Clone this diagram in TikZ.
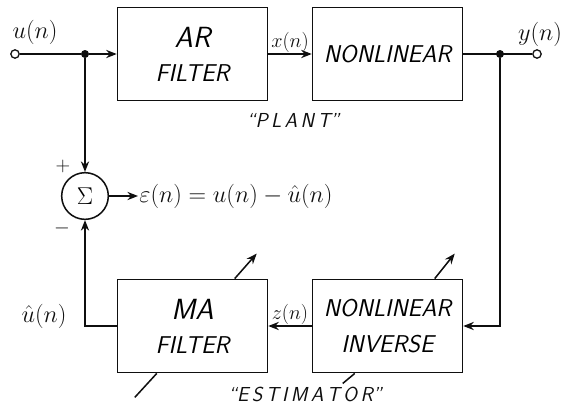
\documentclass[tikz,border=0pt]{standalone}
\usepackage{amsmath}
\usepackage{tikz}
\usetikzlibrary{arrows.meta, positioning, calc}
\definecolor{myink}{RGB}{15,15,15}
\tikzset{
  block/.style={rectangle, draw=myink, minimum width=4.5cm, minimum height=2.8cm,
    align=center, font=\huge\sffamily\slshape, line width=1.3pt},
  sumjunc/.style={circle, draw=myink, minimum size=1.4cm, inner sep=0pt,
    font=\huge, line width=1.3pt},
  port/.style={circle, draw=myink, fill=white, minimum size=0.25cm,
    inner sep=0pt, line width=1.1pt},
  dot/.style={circle, fill=myink, minimum size=0.24cm, inner sep=0pt},
  arrow/.style={-{Stealth[length=9pt,width=7pt]}, line width=1.3pt, color=myink},
  line/.style={line width=1.3pt, color=myink},
  sig/.style={font=\huge, text=myink, inner sep=1pt},
  tag/.style={font=\LARGE\sffamily\slshape, text=myink}
}

\begin{document}
\begin{tikzpicture}[x=0.03cm, y=-0.03cm]
  \useasboundingbox (0,0) rectangle (563,406);

  % plant
  \node[port] (in) at (15,54) {};
  \node[dot] (j1) at (85,54) {};
  \node[block] (ar) at (192.5,54) {{\Huge AR}\\[4pt]FILTER};
  \node[block] (nl) at (387.5,54) {NONLINEAR};
  \node[dot] (j2) at (500,54) {};
  \node[port] (out) at (537,54) {};
  \node[tag] (plant) at (293,120) {``P\,L\,A\,N\,T''};

  % estimator
  \node[block] (nli) at (387.5,326) {NONLINEAR\\[6pt]INVERSE};
  \node[block] (ma) at (192.5,326) {{\Huge MA}\\[4pt]FILTER};
  \node[tag] (est) at (305,394) {``E\,S\,T\,I\,M\,A\,T\,O\,R''};
  \node[sumjunc] (sum) at (85,196) {$\Sigma$};

  \draw[line] (in) -- (j1);
  \draw[arrow] (j1) -- (ar.west);
  \draw[arrow] (ar.east) -- (nl.west) node[midway, above, sig, font=\LARGE] {$x(n)$};
  \draw[line] (nl.east) -- (out);
  \draw[arrow] (j2) |- (nli.east);
  \draw[arrow] (nli.west) -- (ma.east) node[midway, above, sig, font=\LARGE] {$z(n)$};
  \draw[arrow] (j1) -- (sum.north);
  \draw[arrow] (ma.west) -| (sum.south);
  \node[sig, anchor=west] (err) at (138,196) {$\varepsilon(n)=u(n)-\hat{u}(n)$};
  \draw[arrow] (sum.east) -- (err.west);

  % adjustment arrows
  \draw[line] ($(ma.south west)+(40,0)$) -- ++(-22,24);
  \draw[arrow] ($(ma.north west)+(118,0)$) -- ++(22,-25);
  \draw[line] ($(nli.south west)+(43,0)$) -- ++(-12,10);
  \draw[arrow] ($(nli.north west)+(123,0)$) -- ++(20,-25);

  % signal labels
  \node[sig] (ulbl) at (35,32) {$u(n)$};
  \node[sig] (ylbl) at (540,34) {$y(n)$};
  \node[sig] (uhat) at (44,316) {$\hat{u}(n)$};
  \node[sig, font=\LARGE] (plus) at (63,166) {$+$};
  \node[sig, font=\LARGE] (minus) at (62,228) {$-$};
\end{tikzpicture}
\end{document}
